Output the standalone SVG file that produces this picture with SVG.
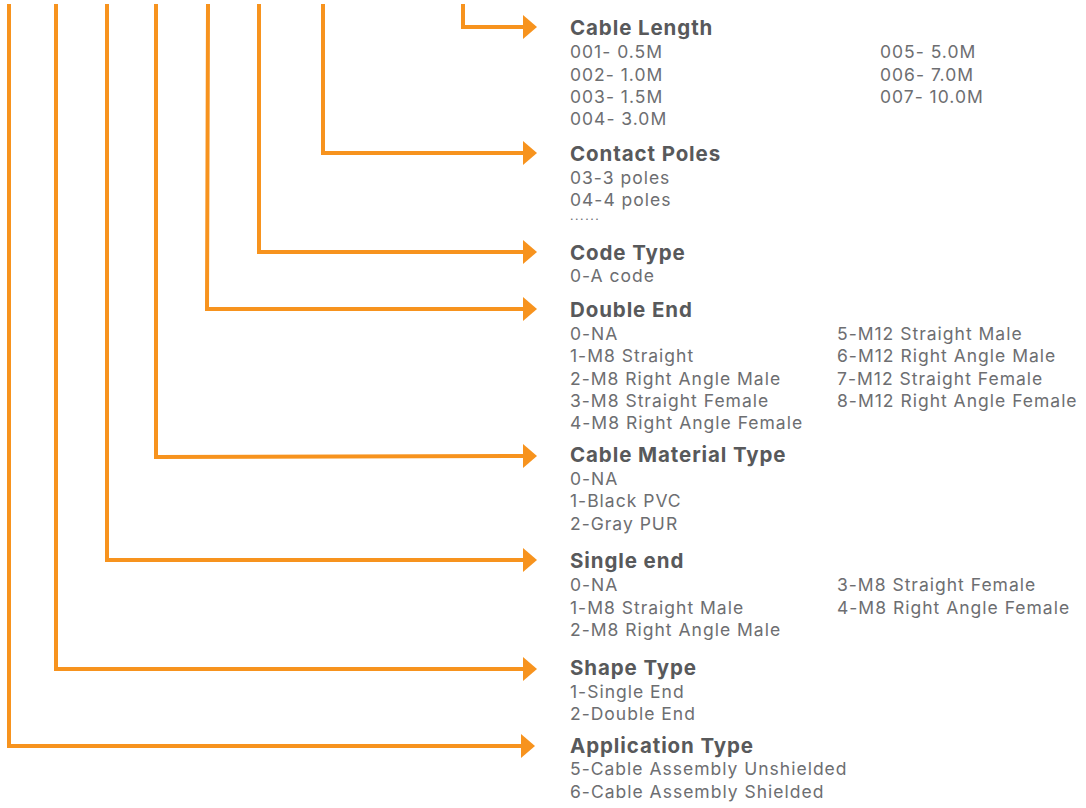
<svg xmlns="http://www.w3.org/2000/svg" width="1086" height="808" viewBox="0 0 1086 808">
<style>
.c{fill:none;stroke:#f7931e;stroke-width:4;stroke-linejoin:miter}
.h{font-family:Inter,"DejaVu Sans",sans-serif;font-weight:700;font-size:20.5px;letter-spacing:0.9px;fill:#58595b}
.t{font-family:Inter,"DejaVu Sans",sans-serif;font-size:17.5px;letter-spacing:1px;fill:#6d6e71}
</style>
<defs>
<marker id="ah" markerUnits="userSpaceOnUse" markerWidth="16" markerHeight="26" refX="2" refY="12" orient="auto" viewBox="0 0 16 26"><path d="M0 0 L14 12 L0 24 Z" fill="#f7931e"/></marker>
</defs>
<rect width="1086" height="808" fill="#fff"/>
<g id="connectors">
<path class="c" d="M463 4 V27 H525" marker-end="url(#ah)"/>
<path class="c" d="M323 4 V153 H525" marker-end="url(#ah)"/>
<path class="c" d="M259 4 V252 H525" marker-end="url(#ah)"/>
<path class="c" d="M208 4 L207 309 H525" marker-end="url(#ah)"/>
<path class="c" d="M156 4 V457 L525 456" marker-end="url(#ah)"/>
<path class="c" d="M107 4 V560 H525" marker-end="url(#ah)"/>
<path class="c" d="M56 4 V669 H525" marker-end="url(#ah)"/>
<path class="c" d="M9 4 V746 H523" marker-end="url(#ah)"/>
</g>
<g id="cable-length">
<text class="h" x="570" y="35">Cable Length</text>
<text class="t" x="570" y="58">001- 0.5M</text>
<text class="t" x="570" y="81">002- 1.0M</text>
<text class="t" x="570" y="103">003- 1.5M</text>
<text class="t" x="570" y="125">004- 3.0M</text>
<text class="t" x="880" y="58">005- 5.0M</text>
<text class="t" x="880" y="81">006- 7.0M</text>
<text class="t" x="880" y="103">007- 10.0M</text>
</g>
<g id="contact-poles">
<text class="h" x="570" y="161">Contact Poles</text>
<text class="t" x="570" y="184">03-3 poles</text>
<text class="t" x="570" y="206">04-4 poles</text>
<text class="t" x="570" y="220" style="font-size:12px;letter-spacing:1.6px">......</text>
</g>
<g id="code-type">
<text class="h" x="570" y="260">Code Type</text>
<text class="t" x="570" y="282">0-A code</text>
</g>
<g id="double-end">
<text class="h" x="570" y="317">Double End</text>
<text class="t" x="570" y="340">0-NA</text>
<text class="t" x="570" y="362">1-M8 Straight</text>
<text class="t" x="570" y="385">2-M8 Right Angle Male</text>
<text class="t" x="570" y="407">3-M8 Straight Female</text>
<text class="t" x="570" y="429">4-M8 Right Angle Female</text>
<text class="t" x="837" y="340">5-M12 Straight Male</text>
<text class="t" x="837" y="362">6-M12 Right Angle Male</text>
<text class="t" x="837" y="385">7-M12 Straight Female</text>
<text class="t" x="837" y="407">8-M12 Right Angle Female</text>
</g>
<g id="cable-material-type">
<text class="h" x="570" y="462">Cable Material Type</text>
<text class="t" x="570" y="485">0-NA</text>
<text class="t" x="570" y="507">1-Black PVC</text>
<text class="t" x="570" y="530">2-Gray PUR</text>
</g>
<g id="single-end">
<text class="h" x="570" y="568">Single end</text>
<text class="t" x="570" y="591">0-NA</text>
<text class="t" x="570" y="614">1-M8 Straight Male</text>
<text class="t" x="570" y="636">2-M8 Right Angle Male</text>
<text class="t" x="837" y="591">3-M8 Straight Female</text>
<text class="t" x="837" y="614">4-M8 Right Angle Female</text>
</g>
<g id="shape-type">
<text class="h" x="570" y="675">Shape Type</text>
<text class="t" x="570" y="698">1-Single End</text>
<text class="t" x="570" y="720">2-Double End</text>
</g>
<g id="application-type">
<text class="h" x="570" y="753">Application Type</text>
<text class="t" x="570" y="775">5-Cable Assembly Unshielded</text>
<text class="t" x="570" y="798">6-Cable Assembly Shielded</text>
</g>
</svg>
